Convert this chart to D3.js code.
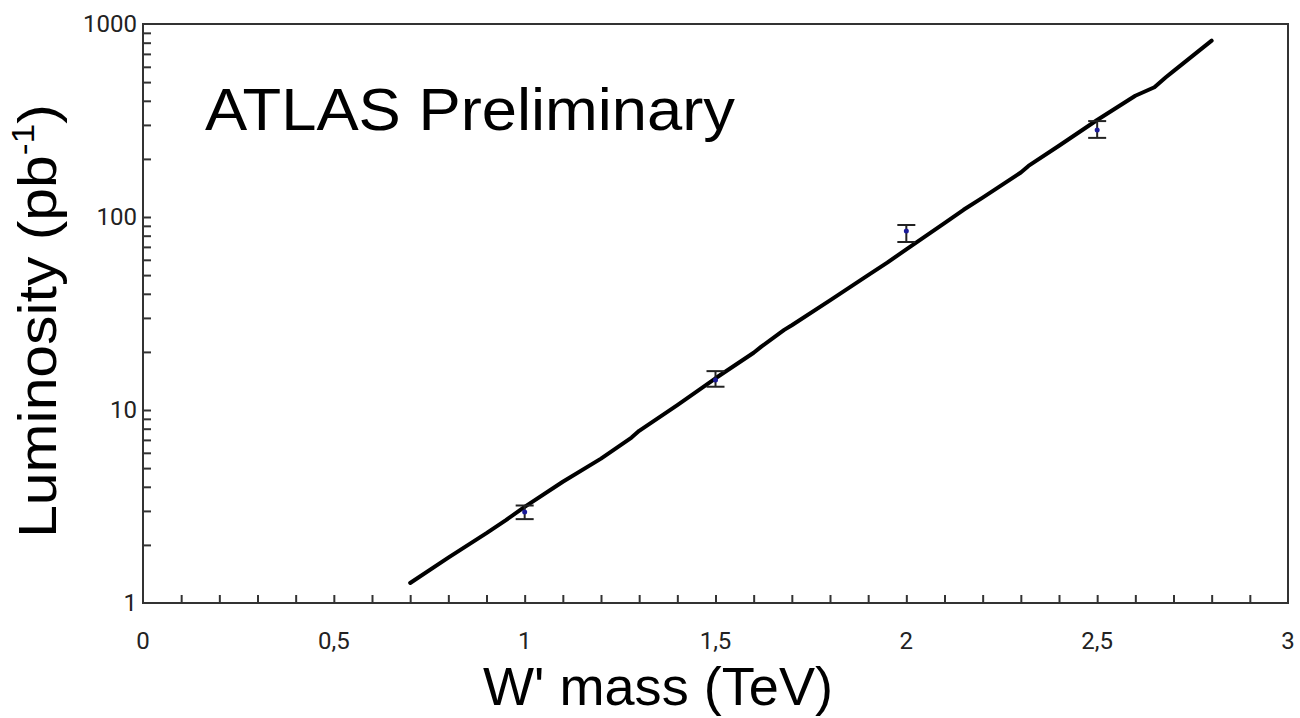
<!DOCTYPE html>
<html>
<head>
<meta charset="utf-8">
<script src="https://cdn.jsdelivr.net/npm/d3@7"></script>
<style>
  body { margin: 0; background: #fff; }
  svg { display: block; }
</style>
</head>
<body>
<div id="chart"></div>
<script>
// Limit curve
const curveMass = [0.7, 0.8, 0.9, 0.95, 1.0, 1.1, 1.2, 1.28, 1.3, 1.4, 1.5, 1.6, 1.62, 1.68, 1.7, 1.8, 1.9, 1.95, 2.0, 2.1, 2.15, 2.2, 2.3, 2.32, 2.4, 2.5, 2.6, 2.65, 2.68, 2.7, 2.8];
const curveLumi = [1.27, 1.72, 2.30, 2.68, 3.15, 4.25, 5.6, 7.2, 7.8, 10.6, 14.6, 19.8, 21.3, 26.0, 27.5, 37, 50, 58, 68, 93, 109, 126, 170, 184, 234, 318, 425, 470, 530, 570, 820];

// Points with error bars
const pointMass = [1.0, 1.5, 2.0, 2.5];
const pointLumi = [2.96, 14.3, 84.6, 282];
const pointLow = [2.72, 13.2, 74.2, 257];
const pointHigh = [3.2, 15.9, 90.9, 314];

const xTicks = [0, 0.5, 1, 1.5, 2, 2.5, 3];
const yTicks = [1, 10, 100, 1000];

const width = 1300, height = 718;
const margin = { left: 143, right: 12, top: 24, bottom: 115 };

const svg = d3.select('#chart')
  .append('svg')
  .attr('width', width)
  .attr('height', height);

const x = d3.scaleLinear().domain([0, 3]).range([margin.left, width - margin.right]);
const y = d3.scaleLog().domain([1, 1000]).range([height - margin.bottom, margin.top]);

// Frame
svg.append('rect')
  .attr('x', x(0)).attr('y', y(1000))
  .attr('width', x(3) - x(0)).attr('height', y(1) - y(1000))
  .attr('fill', 'none').attr('stroke', '#333').attr('stroke-width', 2);

// Bottom ticks, inward
const xAxis = svg.append('g')
  .attr('transform', 'translate(0,' + y(1) + ')')
  .call(d3.axisBottom(x).tickValues(d3.range(1, 30).map((d) => d / 10)).tickSize(-8).tickFormat(''));
xAxis.select('.domain').remove();
xAxis.selectAll('line').attr('stroke', '#333').attr('stroke-width', 2);

// Left ticks, inward (log minors)
const minor = [];
[1, 10, 100].forEach((p) => { for (let k = 2; k <= 9; k++) minor.push(p * k); });
const yAxis = svg.append('g')
  .attr('transform', 'translate(' + x(0) + ',0)')
  .call(d3.axisLeft(y).tickValues(minor.concat([10, 100])).tickSize(-8).tickFormat(''));
yAxis.select('.domain').remove();
yAxis.selectAll('line').attr('stroke', '#333').attr('stroke-width', 2);

// Tick labels
svg.append('g').selectAll('text')
  .data(xTicks).enter().append('text')
  .attr('x', (d) => x(d)).attr('y', 649)
  .attr('text-anchor', 'middle')
  .attr('font-family', 'Roboto, sans-serif').attr('font-size', 24).attr('fill', '#222')
  .text((d) => String(d).replace('.', ','));

svg.append('g').selectAll('text')
  .data(yTicks).enter().append('text')
  .attr('x', 137).attr('y', (d) => y(d) + 8)
  .attr('text-anchor', 'end')
  .attr('font-family', 'Roboto, sans-serif').attr('font-size', 24).attr('fill', '#222')
  .text((d) => d);

// Curve
const line = d3.line().x((d) => x(d[0])).y((d) => y(d[1]));
svg.append('path')
  .datum(d3.zip(curveMass, curveLumi))
  .attr('d', line)
  .attr('fill', 'none').attr('stroke', '#000').attr('stroke-width', 4)
  .attr('stroke-linecap', 'round').attr('stroke-linejoin', 'round');

// Error bars
const pts = pointMass.map((m, i) => ({ m, v: pointLumi[i], lo: pointLow[i], hi: pointHigh[i] }));
const eb = svg.append('g').attr('stroke', '#222').attr('stroke-width', 2);
eb.selectAll('.v').data(pts).enter().append('line')
  .attr('x1', (d) => x(d.m)).attr('x2', (d) => x(d.m))
  .attr('y1', (d) => y(d.lo)).attr('y2', (d) => y(d.hi));
eb.selectAll('.lo').data(pts).enter().append('line')
  .attr('x1', (d) => x(d.m) - 9).attr('x2', (d) => x(d.m) + 9)
  .attr('y1', (d) => y(d.lo)).attr('y2', (d) => y(d.lo));
eb.selectAll('.hi').data(pts).enter().append('line')
  .attr('x1', (d) => x(d.m) - 9).attr('x2', (d) => x(d.m) + 9)
  .attr('y1', (d) => y(d.hi)).attr('y2', (d) => y(d.hi));
svg.append('g').selectAll('circle')
  .data(pts).enter().append('circle')
  .attr('cx', (d) => x(d.m)).attr('cy', (d) => y(d.v)).attr('r', 2.5)
  .attr('fill', '#1a1a99');

// Labels
const font = '"Liberation Sans", Arial, sans-serif';
svg.append('text')
  .attr('x', 205).attr('y', 130)
  .attr('font-family', font).attr('font-size', 59).attr('fill', '#000')
  .attr('textLength', 530).attr('lengthAdjust', 'spacingAndGlyphs')
  .text('ATLAS Preliminary');

svg.append('text')
  .attr('x', 658).attr('y', 705)
  .attr('text-anchor', 'middle')
  .attr('font-family', font).attr('font-size', 53).attr('fill', '#000')
  .attr('textLength', 350).attr('lengthAdjust', 'spacingAndGlyphs')
  .text("W' mass (TeV)");

const yl = svg.append('text')
  .attr('transform', 'translate(56,321) rotate(-90) scale(1.11,1)')
  .attr('text-anchor', 'middle')
  .attr('font-family', font).attr('font-size', 53).attr('fill', '#000');
yl.append('tspan').text('Luminosity (pb');
yl.append('tspan').attr('dy', -22).attr('font-size', 32).text('-1');
yl.append('tspan').attr('dy', 22).text(')');
</script>
</body>
</html>
